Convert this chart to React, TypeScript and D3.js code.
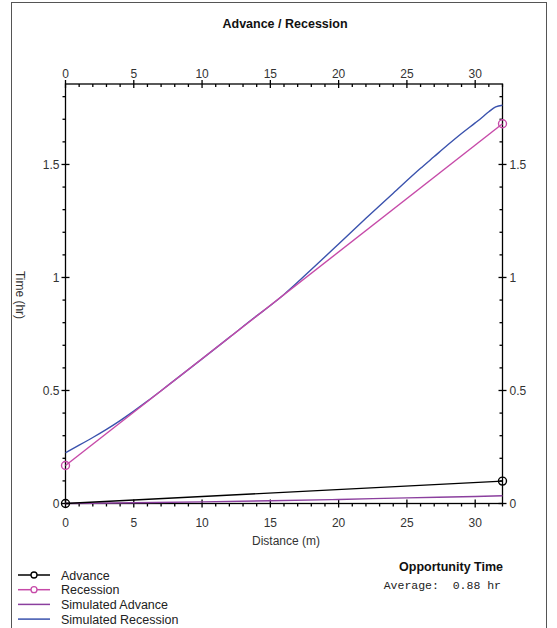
import { useEffect, useRef } from 'react';
import * as d3 from 'd3';

// distance (m) along the furrow
const advanceX = [0, 32];
const advanceT = [0, 0.099];

const recessionX = [0, 32];
const recessionT = [0.168, 1.68];

const simAdvanceX = [0, 2, 5, 10, 15, 20, 25, 30, 32];
const simAdvanceT = [0, 0.001, 0.003, 0.007, 0.012, 0.018, 0.025, 0.031, 0.034];

const simRecessionX = [0, 1, 2, 3, 4, 5, 6, 7, 8, 10, 12, 14, 15, 16, 18, 20, 22, 24, 26, 27, 28, 29, 30, 30.5, 31, 31.5, 32];
const simRecessionT = [0.225, 0.258, 0.292, 0.328, 0.367, 0.409, 0.453, 0.499, 0.546, 0.64, 0.735, 0.83, 0.876, 0.925, 1.035, 1.148, 1.262, 1.373, 1.483, 1.535, 1.587, 1.637, 1.684, 1.708, 1.733, 1.755, 1.762];

const xTicks = [0, 5, 10, 15, 20, 25, 30];
const yTicks = [0, 0.5, 1, 1.5];
const yTickLabels = ['0', '0.5', '1', '1.5'];

const legendNames = ['Advance', 'Recession', 'Simulated Advance', 'Simulated Recession'];
const legendColors = ['#000000', '#c64aa8', '#8b3f9e', '#3a52ad'];
const legendMarkers = [true, true, false, false];

const W = 557;
const H = 628;

export default function App() {
  const svgRef = useRef<SVGSVGElement>(null);

  useEffect(() => {
    const svg = d3.select(svgRef.current);
    svg.selectAll('*').remove();

    const left = 65.5, right = 502.5, top = 84, bottom = 503.5;
    const x = d3.scaleLinear().domain([0, 32]).range([left, right]);
    const y = d3.scaleLinear().domain([0, 1.856]).range([bottom, top]);
    const font = 'Arial, "Liberation Sans", sans-serif';
    const labelColor = '#333';

    // outer frame
    svg.append('rect')
      .attr('x', 11.5).attr('y', 2.5)
      .attr('width', 535).attr('height', 640)
      .attr('fill', 'none').attr('stroke', '#555').attr('stroke-width', 1);

    // title
    svg.append('text')
      .attr('x', 285).attr('y', 28)
      .attr('text-anchor', 'middle')
      .style('font-family', font).style('font-size', '12.5px').style('font-weight', 'bold')
      .attr('fill', '#111')
      .text('Advance / Recession');

    const axes = svg.append('g').attr('stroke', '#000').attr('stroke-width', 1.3);
    axes.append('rect')
      .attr('x', left).attr('y', top)
      .attr('width', right - left).attr('height', bottom - top)
      .attr('fill', 'none');

    // x ticks (top + bottom)
    const xMinor = d3.range(0, 33, 1).filter(v => v % 5 !== 0);
    xMinor.forEach(v => {
      axes.append('line').attr('x1', x(v)).attr('x2', x(v)).attr('y1', top).attr('y2', top + 3);
      axes.append('line').attr('x1', x(v)).attr('x2', x(v)).attr('y1', bottom).attr('y2', bottom + 3);
    });
    xTicks.forEach(v => {
      axes.append('line').attr('x1', x(v)).attr('x2', x(v)).attr('y1', top - 4).attr('y2', top + 4);
      axes.append('line').attr('x1', x(v)).attr('x2', x(v)).attr('y1', bottom - 4).attr('y2', bottom + 4);
    });

    // y ticks (left + right)
    const yMinor = d3.range(1, 19).map(i => i / 10).filter(v => Math.abs(v * 2 - Math.round(v * 2)) > 1e-6);
    yMinor.forEach(v => {
      axes.append('line').attr('x1', left - 3).attr('x2', left).attr('y1', y(v)).attr('y2', y(v));
      axes.append('line').attr('x1', right - 3).attr('x2', right).attr('y1', y(v)).attr('y2', y(v));
    });
    yTicks.forEach(v => {
      axes.append('line').attr('x1', left - 4).attr('x2', left + 4).attr('y1', y(v)).attr('y2', y(v));
      axes.append('line').attr('x1', right - 4).attr('x2', right + 4).attr('y1', y(v)).attr('y2', y(v));
    });

    const labels = svg.append('g')
      .style('font-family', font).style('font-size', '12px').attr('fill', labelColor);
    xTicks.forEach(v => {
      labels.append('text').attr('x', x(v)).attr('y', 78).attr('text-anchor', 'middle').text(v);
      labels.append('text').attr('x', x(v)).attr('y', 527).attr('text-anchor', 'middle').text(v);
    });
    yTicks.forEach((v, i) => {
      labels.append('text').attr('x', left - 6).attr('y', y(v) + 4.5).attr('text-anchor', 'end').text(yTickLabels[i]);
      labels.append('text').attr('x', right + 7).attr('y', y(v) + 4.5).attr('text-anchor', 'start').text(yTickLabels[i]);
    });

    labels.append('text')
      .attr('x', 286).attr('y', 545).attr('text-anchor', 'middle')
      .text('Distance (m)');
    labels.append('text')
      .attr('transform', `translate(16, 295) rotate(90)`)
      .attr('text-anchor', 'middle')
      .text('Time (hr)');

    // series
    const line = d3.line<[number, number]>()
      .x(d => x(d[0])).y(d => y(d[1]))
      .curve(d3.curveMonotoneX);
    const series = [
      { xs: simAdvanceX, ts: simAdvanceT, color: legendColors[2], markers: false },
      { xs: simRecessionX, ts: simRecessionT, color: legendColors[3], markers: false },
      { xs: recessionX, ts: recessionT, color: legendColors[1], markers: true },
      { xs: advanceX, ts: advanceT, color: legendColors[0], markers: true },
    ];
    const plot = svg.append('g');
    series.forEach(s => {
      const pts = s.xs.map((v, i) => [v, s.ts[i]] as [number, number]);
      plot.append('path')
        .attr('d', line(pts))
        .attr('fill', 'none')
        .attr('stroke', s.color)
        .attr('stroke-width', 1.4);
      if (s.markers) {
        pts.forEach(p => {
          plot.append('circle')
            .attr('cx', x(p[0])).attr('cy', y(p[1])).attr('r', 4)
            .attr('fill', 'none').attr('stroke', s.color).attr('stroke-width', 1.4);
        });
      }
    });

    // legend
    const legend = svg.append('g');
    legendNames.forEach((name, i) => {
      const ly = 575 + i * 14.7;
      legend.append('line')
        .attr('x1', 18).attr('x2', 50).attr('y1', ly).attr('y2', ly)
        .attr('stroke', legendColors[i]).attr('stroke-width', 1.5);
      if (legendMarkers[i]) {
        legend.append('circle')
          .attr('cx', 34).attr('cy', ly).attr('r', 3)
          .attr('fill', '#fff').attr('stroke', legendColors[i]).attr('stroke-width', 1.3);
      }
      legend.append('text')
        .attr('x', 61).attr('y', ly + 4.5)
        .style('font-family', font).style('font-size', '12.5px')
        .attr('fill', '#222')
        .text(name);
    });

    svg.append('text')
      .attr('x', 503).attr('y', 571).attr('text-anchor', 'end')
      .style('font-family', font).style('font-size', '12.5px').style('font-weight', 'bold')
      .attr('fill', '#111')
      .text('Opportunity Time');
    svg.append('text')
      .attr('x', 501).attr('y', 589).attr('text-anchor', 'end')
      .style('font-family', '"Liberation Mono", "Courier New", monospace').style('font-size', '11.5px')
      .style('white-space', 'pre')
      .attr('fill', '#222')
      .text('Average:  0.88 hr');
  }, []);

  return (
    <svg
      ref={svgRef}
      width={W}
      height={H}
      style={{ position: 'absolute', left: 0, top: 0, background: '#fff' }}
    />
  );
}
